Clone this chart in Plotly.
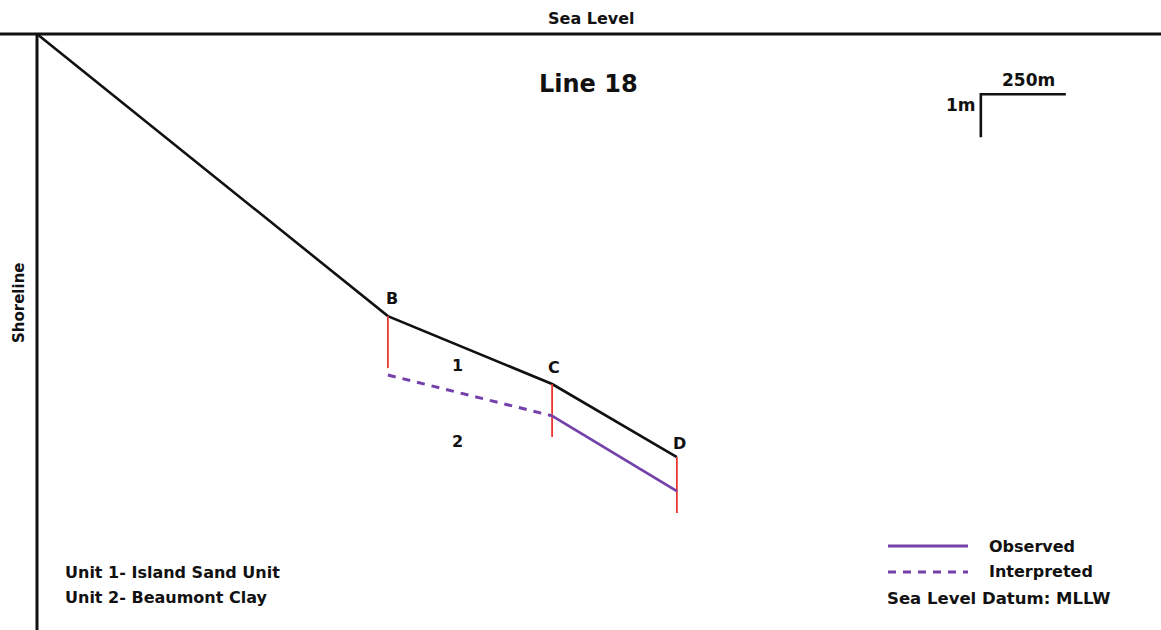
import plotly.graph_objects as go

# Cross-section of Line 18: distance offshore (m) vs depth below MLLW (m)
profile_x = [0, 1032, 1515, 1882]
profile_depth = [0, 6.56, 8.14, 9.84]
station_names = ["B", "C", "D"]
station_x = [1032, 1515, 1882]
station_top = [6.56, 8.14, 9.84]
core_bottom = [7.77, 9.37, 11.14]

# Base of Unit 1 (contact with Unit 2)
interp_x = [1032, 1515]
interp_depth = [7.93, 8.88]
obs_x = [1515, 1882]
obs_depth = [8.88, 10.63]

unit_labels = ["1", "2"]
unit_label_x = [1238, 1238]
unit_label_depth = [7.72, 9.47]

scale_x = [2776, 3026]
scale_depth = [1.4, 2.4]

W, H = 1161, 630
PX_PER_M_X = 85 / 250
PX_PER_M_Y = 43.0
X0, Y0 = 37, 34
DEPTH_MAX = (H - Y0) / PX_PER_M_Y

BLACK = "#111111"
PURPLE = "#7441aa"
RED = "#e8382f"
FONT = "DejaVu Sans"

fig = go.Figure()

# Seafloor profile
fig.add_trace(go.Scatter(x=profile_x, y=profile_depth, mode="lines",
                         line=dict(color=BLACK, width=2.6), showlegend=False))

# Core / station sticks
for sx, st, sb in zip(station_x, station_top, core_bottom):
    fig.add_trace(go.Scatter(x=[sx, sx], y=[st, sb], mode="lines",
                             line=dict(color=RED, width=1.8), showlegend=False))

# Unit 1 base: interpreted and observed
fig.add_trace(go.Scatter(x=interp_x, y=interp_depth, mode="lines",
                         line=dict(color=PURPLE, width=3, dash="8px,7px"),
                         showlegend=False))
fig.add_trace(go.Scatter(x=obs_x, y=obs_depth, mode="lines",
                         line=dict(color=PURPLE, width=2.8), showlegend=False))

# Sea level and shoreline frame
fig.add_shape(type="line", x0=0, x1=1, xref="x domain", y0=0, y1=0, yref="y",
              line=dict(color=BLACK, width=3))
fig.add_shape(type="line", x0=0, x1=0, xref="x", y0=0, y1=DEPTH_MAX, yref="y",
              line=dict(color=BLACK, width=3))

# Scale bar
fig.add_trace(go.Scatter(x=[scale_x[1], scale_x[0], scale_x[0]],
                         y=[scale_depth[0], scale_depth[0], scale_depth[1]],
                         mode="lines", line=dict(color=BLACK, width=2.6),
                         showlegend=False))

ann = []
for name, sx, st, dx, dy in zip(station_names, station_x, station_top,
                                [4, 2, 3], [18, 17, 14]):
    ann.append(dict(x=sx, y=st, text=f"<b>{name}</b>", showarrow=False,
                    xshift=dx, yshift=dy,
                    font=dict(size=16, color=BLACK, family=FONT)))
for t, ux, ud in zip(unit_labels, unit_label_x, unit_label_depth):
    ann.append(dict(x=ux, y=ud, text=f"<b>{t}</b>", showarrow=False,
                    font=dict(size=16, color=BLACK, family=FONT)))

ann.append(dict(x=scale_x[0], y=scale_depth[0], text="<b>250m</b>", showarrow=False,
                xanchor="center", xshift=48, yshift=14,
                font=dict(size=17, color=BLACK, family=FONT)))
ann.append(dict(x=scale_x[0], y=scale_depth[0], text="<b>1m</b>", showarrow=False,
                xanchor="right", xshift=-3, yshift=-11,
                font=dict(size=17, color=BLACK, family=FONT)))


def px(x, y):
    return x / W, 1 - y / H


def text_at(x, y, s, size, anchor="center", angle=0):
    xp, yp = px(x, y)
    ann.append(dict(x=xp, y=yp, xref="paper", yref="paper", text=s,
                    showarrow=False, xanchor=anchor, yanchor="middle",
                    textangle=angle,
                    font=dict(size=size, color=BLACK, family=FONT)))


text_at(591, 18, "<b>Sea Level</b>", 16)
text_at(588, 84, "<b>Line 18</b>", 24)
text_at(19, 303, "<b>Shoreline</b>", 15, angle=-90)
text_at(63, 572, "<b>Unit 1- Island Sand Unit</b>", 16, anchor="left")
text_at(63, 597, "<b>Unit 2- Beaumont Clay</b>", 16, anchor="left")
text_at(987, 546, "<b>Observed</b>", 16, anchor="left")
text_at(987, 571, "<b>Interpreted</b>", 16, anchor="left")
text_at(885, 598, "<b>Sea Level Datum: MLLW</b>", 16.5, anchor="left")

# Legend key lines
lx0, ly0 = px(888, 546)
lx1, _ = px(968, 546)
fig.add_shape(type="line", xref="paper", yref="paper", x0=lx0, x1=lx1, y0=ly0, y1=ly0,
              line=dict(color=PURPLE, width=2.8))
_, ly1 = px(888, 572)
fig.add_shape(type="line", xref="paper", yref="paper", x0=lx0, x1=lx1, y0=ly1, y1=ly1,
              line=dict(color=PURPLE, width=3, dash="8px,7px"))

fig.update_layout(
    width=W, height=H,
    margin=dict(l=0, r=0, t=0, b=0),
    plot_bgcolor="white", paper_bgcolor="white",
    annotations=ann,
    xaxis=dict(range=[-X0 / PX_PER_M_X, (W - X0) / PX_PER_M_X], visible=False,
               fixedrange=True),
    yaxis=dict(range=[DEPTH_MAX, -Y0 / PX_PER_M_Y], visible=False,
               fixedrange=True),
    showlegend=False,
)

fig.write_html("out.html")
